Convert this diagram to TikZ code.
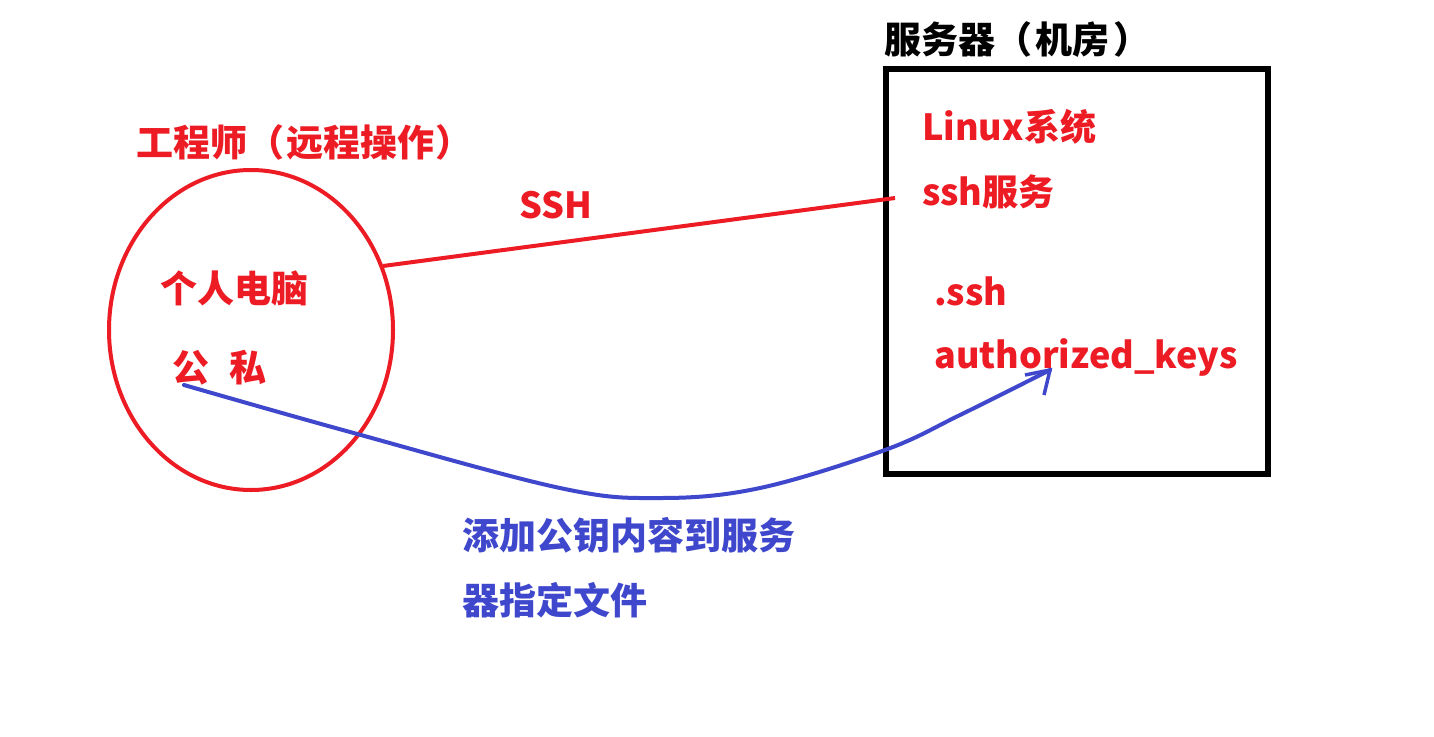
\documentclass[tikz,border=0pt]{standalone}
\usepackage{fontspec}
\setmainfont{Noto Sans CJK SC}
\definecolor{myred}{HTML}{ED1C24}
\definecolor{myblue}{HTML}{3F48CC}
\begin{document}
\begin{tikzpicture}[x=1pt,y=-1pt,
  lbl/.style={anchor=west,inner sep=0pt,font=\fontsize{37}{42}\selectfont\bfseries},
  latin/.style={font=\fontsize{36}{42}\selectfont\bfseries},
  redlbl/.style={lbl,text=myred},
  bluelbl/.style={lbl,text=myblue},
  blacklbl/.style={lbl,text=black}]
\useasboundingbox (0,0) rectangle (1434,736);
\fill[white] (0,0) rectangle (1434,736);
% ellipse
\draw[myred,line width=4pt] (251,330) ellipse [x radius=142, y radius=160];
\node (pc) at (251,330) {};
% server box
\draw[black,line width=6pt] (886,69) rectangle (1268,474);
\node[blacklbl] (srv) at (884,40) {服务器（\hspace{0.1em}机房\hspace{0.1em}）};
\node[redlbl] (eng) at (136,142) {工程师（\hspace{0.05em}远程操作\hspace{0.05em}）};
\node[redlbl,latin] (ssh) at (519,205) {SSH};
\node[redlbl] (pcl) at (160,288) {个人电脑};
\node[redlbl] (keys) at (172,368) {公\hspace{0.55em}私};
\node[redlbl,latin] (linux) at (922,127) {Linux系统};
\node[redlbl,latin] (sshd) at (922,192) {ssh服务};
\node[redlbl,latin] (dssh) at (934,291) {.ssh};
\node[redlbl,latin] (auth) at (934,357) {authorized\_keys};
\node[bluelbl] (add1) at (462,535) {添加公钥内容到服务};
\node[bluelbl] (add2) at (462,600) {器指定文件};
% ssh line
\coordinate (a) at (383,266);
\coordinate (b) at (895,198);
\draw[myred,line width=4pt] (a) -- (b);
% blue arrow
\coordinate (s) at (184,385);
\coordinate (t) at (1050,370);
\coordinate (h1) at (1025,375);
\coordinate (h2) at (1044,395);
\draw[myblue,line width=4pt,line cap=round] plot[smooth,tension=0.6] coordinates {(184,385) (350,432) (560,488) (660,498) (760,488) (885,450) (960,415) (1050,370)};
\draw[myblue,line width=3.5pt] (h1) -- (t) -- (h2);
\end{tikzpicture}
\end{document}
